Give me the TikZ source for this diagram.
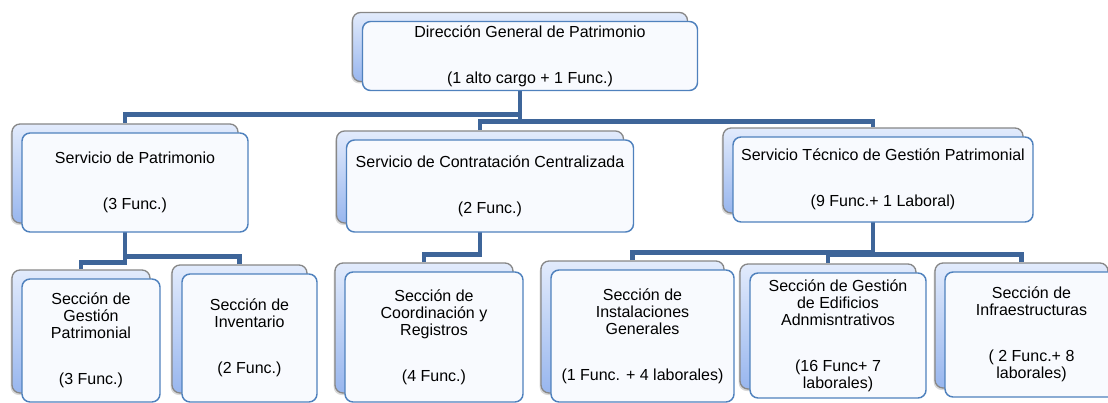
\documentclass[tikz,border=0pt]{standalone}
\usepackage{fontspec}
\setmainfont{Liberation Sans}
\usetikzlibrary{positioning,backgrounds,shadows}
\definecolor{linkblue}{RGB}{62,101,153}
\definecolor{frontblue}{RGB}{79,129,189}
\definecolor{frontfill}{RGB}{248,250,254}
\definecolor{backgray}{RGB}{135,135,135}
\definecolor{backtop}{RGB}{226,235,252}
\definecolor{backbot}{RGB}{152,182,238}

\begin{document}
\begin{tikzpicture}[x=0.75pt,y=-0.75pt,
    box/.style 2 args={minimum width=#1,minimum height=#2},
    back/.style={draw=backgray,line width=1pt,rounded corners=6pt,
      top color=backtop,bottom color=backbot,
      drop shadow={shadow xshift=-1pt,shadow yshift=-1.5pt,opacity=.3}},
    front/.style={draw=frontblue,line width=1.1pt,rounded corners=6pt,
      fill=frontfill,align=center,inner sep=0pt,
      font=\fontsize{12}{12.75}\selectfont},
    link/.style={draw=linkblue,line width=3.3pt}]
  \useasboundingbox (0,0) rectangle (1108,403);

  % first level
  \node[back,box={251.25pt}{51.75pt}] (dgp_b) at (520,47) {};
  \node[front,box={251.25pt}{51.75pt}] (dgp) at ([shift={(10,9)}]dgp_b.center)
    {Dirección General de Patrimonio\\[22pt](1 alto cargo + 1 Func.)};

  % services
  \node[back,box={169.5pt}{74.25pt}] (sp_b) at (125,173.5) {};
  \node[front,box={169.5pt}{74.25pt}] (sp) at ([shift={(10,9)}]sp_b.center)
    {Servicio de Patrimonio\\[22pt](3 Func.)};
  \node[back,box={215.25pt}{69pt}] (scc_b) at (480,177) {};
  \node[front,box={215.25pt}{69pt}] (scc) at ([shift={(10,9)}]scc_b.center)
    {Servicio de Contratación Centralizada\\[22pt](2 Func.)};
  \node[back,box={225pt}{63.75pt}] (stgp_b) at (873,170.5) {};
  \node[front,box={225pt}{63.75pt}] (stgp) at ([shift={(10,9)}]stgp_b.center)
    {Servicio Técnico de Gestión Patrimonial\\[22pt](9 Func.+ 1 Laboral)};

  % sections
  \node[back,box={103.5pt}{92.25pt}] (gp_b) at (81,331.5) {};
  \node[front,box={103.5pt}{92.25pt}] (gp) at ([shift={(10,9)}]gp_b.center)
    {Sección de\\Gestión\\Patrimonial\\[22pt](3 Func.)};
  \node[back,box={101.25pt}{96pt}] (inv_b) at (239.5,329) {};
  \node[front,box={101.25pt}{96pt}] (inv) at ([shift={(10,9)}]inv_b.center)
    {Sección de\\Inventario\\[22pt](2 Func.)};
  \node[back,box={133.5pt}{97.5pt}] (coord_b) at (424,328) {};
  \node[front,box={133.5pt}{97.5pt}] (coord) at ([shift={(10,9)}]coord_b.center)
    {Sección de\\Coordinación y\\Registros\\[22pt](4 Func.)};
  \node[back,box={137.25pt}{99pt}] (sig_b) at (632.5,327) {};
  \node[front,box={137.25pt}{99pt}] (sig) at ([shift={(10,9)}]sig_b.center)
    {Sección de\\Instalaciones\\Generales\\[22pt](1 Func. + 4 laborales)};
  \node[back,box={132pt}{93.75pt}] (sgea_b) at (828,326.5) {};
  \node[front,box={132pt}{93.75pt}] (sgea) at ([shift={(10,9)}]sgea_b.center)
    {Sección de Gestión\\de Edificios\\Adnmisntrativos\\[22pt](16 Func+ 7\\laborales)};
  \node[back,box={129.75pt}{93.75pt}] (sinf_b) at (1021.5,325.5) {};
  \node[front,box={129.75pt}{93.75pt}] (sinf) at ([shift={(10,9)}]sinf_b.center)
    {Sección de\\Infraestructuras\\[22pt]( 2 Func.+ 8\\laborales)};

  \begin{scope}[on background layer]
    \draw[link] (sp_b.north) -- ++(0,-9) -| (dgp_b.center);
    \draw[link] (scc_b.north) -- ++(0,-9) -| (dgp_b.center);
    \draw[link] (stgp_b.north) -- ++(0,-6) -| (dgp_b.center);
    \draw[link] (gp_b.north) -- ++(0,-7) -| (sp_b.center);
    \draw[link] (inv_b.north) -- ++(0,-8) -| (sp_b.center);
    \draw[link] (coord_b.north) -- ++(0,-8) -| (scc_b.center);
    \draw[link] (sig_b.north) -- ++(0,-8) -| (stgp_b.center);
    \draw[link] (sgea_b.north) -- ++(0,-9) -| (stgp_b.center);
    \draw[link] (sinf_b.north) -- ++(0,-8) -| (stgp_b.center);
  \end{scope}
\end{tikzpicture}
\end{document}
